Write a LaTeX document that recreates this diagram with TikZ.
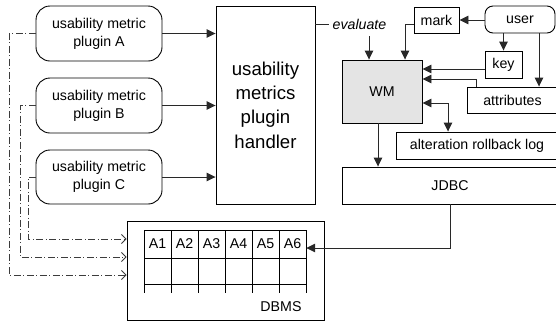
\documentclass[tikz,border=0pt]{standalone}
\usepackage{fontspec}
\setmainfont{Liberation Sans}
\usetikzlibrary{arrows.meta}
\definecolor{wmfill}{RGB}{228,228,228}
\definecolor{ln}{RGB}{40,40,40}
\definecolor{ddc}{RGB}{60,60,60}
\begin{document}
\begin{tikzpicture}[x=1pt,y=-1pt,
  box/.style={draw=black,line width=0.9pt,inner sep=0pt,font=\fontsize{14.2}{17}\selectfont},
  plug/.style={box,rounded corners=14pt,minimum width=126pt,minimum height=55pt,align=center,font=\fontsize{14.2}{18}\selectfont},
  arr/.style={draw=ln,line width=0.9pt,-{Triangle[length=9pt,width=8.5pt]}},
  arrb/.style={draw=ln,line width=0.9pt,{Triangle[length=9pt,width=8.5pt]}-{Triangle[length=9pt,width=8.5pt]}},
  dd/.style={draw=ddc,line width=0.8pt,dash pattern=on 7pt off 2.5pt on 1pt off 2.5pt,-{Straight Barb[length=4.5pt,width=9pt]}},
  tl/.style={line width=0.9pt}]
\useasboundingbox (0,0) rectangle (556,322);
\clip (0,0) rectangle (556,322);
% plugins
\node[plug] (pA) at (99,33.5) {usability metric\\plugin A};
\node[plug] (pB) at (99,105.5) {usability metric\\plugin B};
\node[plug,minimum height=54pt] (pC) at (99,177) {usability metric\\plugin C};
% handler
\node[box,minimum width=99pt,minimum height=198pt,align=center,font=\fontsize{18.6}{24.3}\selectfont] (hd) at (265.5,105) {usability\\metrics\\plugin\\handler};
% WM etc
\node[box,fill=wmfill,minimum width=80pt,minimum height=63pt] (wm) at (382,91.5) {WM};
\node[box,minimum width=45pt,minimum height=26pt] (mark) at (436.5,20) {mark};
\node[box,rounded corners=8pt,minimum width=70pt,minimum height=27pt] (user) at (520,19.5) {user};
\node[box,minimum width=37pt,minimum height=27pt] (key) at (503.5,64.5) {key};
\node[box,minimum width=91pt,minimum height=26pt] (attr) at (512.5,100) {attributes};
\node[box,minimum width=162pt,minimum height=27pt] (log) at (477,145.5) {alteration rollback log};
\node[box,minimum width=216pt,minimum height=37pt] (jdbc) at (450,185.5) {JDBC};
% DBMS
\node[box,minimum width=197pt,minimum height=99pt] (dbms) at (225.5,270.5) {};
\node[font=\fontsize{14.2}{17}\selectfont] (dbl) at (281,307) {DBMS};
\foreach \i/\x in {1/157.5,2/184.5,3/211.5,4/238.5,5/265.5,6/292.5}
  \node[minimum width=27pt,minimum height=28pt,inner sep=0pt,font=\fontsize{14.2}{17}\selectfont] (a\i) at (\x,244) {A\i};
\draw[tl] (144,230) -- (306,230) (144,258) -- (306,258) (144,284) -- (306,284);
\foreach \x in {144,171,198,225,252,279,306}
  \draw[tl] (\x,230) -- (\x,293);
% evaluate
\node[font=\fontsize{14.2}{17}\selectfont\itshape,inner sep=0pt] (ev) at (359.5,24) {evaluate};
\draw[line width=0.9pt,draw=ln] (hd.east |- ev) -- ([xshift=-3pt]ev.west);
\coordinate (evx) at (369,36);
\draw[arr] (evx) -- (evx |- wm.north);
% plugin arrows
\draw[arr] (pA.east) -- (pA.east -| hd.west);
\draw[arr] (pB.east) -- (pB.east -| hd.west);
\draw[arr] (pC.east) -- (pC.east -| hd.west);
% dash-dot
\coordinate (dA) at (9,275);
\coordinate (dB) at (20,257);
\coordinate (dC) at (28,239);
\draw[dd] (pA.west) -| (dA) -- (dA -| dbms.west);
\draw[dd] (pB.west) -| (dB) -- (dB -| dbms.west);
\draw[dd] (pC.west) -| (dC) -- (dC -| dbms.west);
% user connections
\draw[arr] (user.west |- mark.east) -- (mark.east);
\draw[arr] (user.south -| key.north) -- (key.north);
\coordinate (uax) at (539,0);
\draw[arr] (uax |- user.south) -- (uax |- attr.north);
% mark to WM
\coordinate (mkx) at (405,24);
\draw[arr] (mark.west |- mkx) -- (mkx) -- (mkx |- wm.north);
% key to WM
\coordinate (kx) at (485,69);
\draw[arr] (kx) -- (kx -| wm.east);
% attributes to WM
\coordinate (atx) at (476,79);
\draw[arr] (atx |- attr.north) -- (atx) -- (atx -| wm.east);
% WM <-> log
\coordinate (lgx) at (448,103);
\draw[arrb] (wm.east |- lgx) -- (lgx) -- (lgx |- log.north);
% WM -> JDBC
\coordinate (wjx) at (378,0);
\draw[arr] (wjx |- wm.south) -- (wjx |- jdbc.north);
% JDBC -> A6
\coordinate (jx) at (450,248);
\draw[arr] (jdbc.south) -- (jx) -- (jx -| a6.east);
\end{tikzpicture}
\end{document}
